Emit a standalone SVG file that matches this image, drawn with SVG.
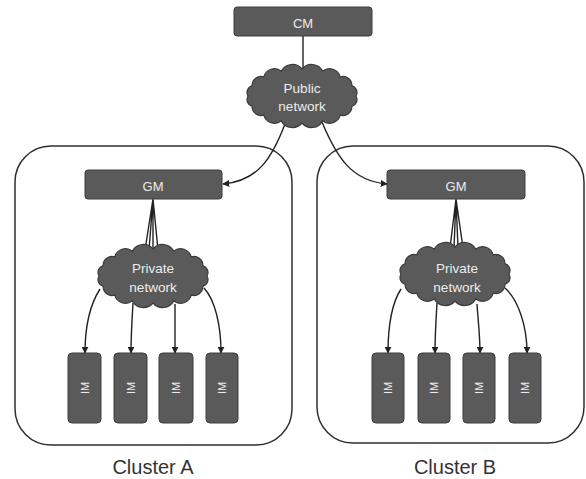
<svg xmlns="http://www.w3.org/2000/svg" width="586" height="479" viewBox="0 0 586 479">
  <defs>
    <style>
      .box { fill: #5a5a5a; stroke: #3c3c3c; stroke-width: 1; }
      .cloud { fill: #5a5a5a; stroke: #3a3a3a; stroke-width: 1.2; }
      .cluster { fill: none; stroke: #2e2e2e; stroke-width: 1.5; }
      .lbl { font-family: "Liberation Sans", Arial, sans-serif; fill: #ececec; text-anchor: middle; }
      .title { font-family: "Liberation Sans", Arial, sans-serif; fill: #333333; font-size: 20px; text-anchor: middle; }
      .link { fill: none; stroke: #222222; stroke-width: 1.4; }
      .arrow { fill: none; stroke: #222222; stroke-width: 1.4; marker-end: url(#head); }
    </style>
    <marker id="head" viewBox="0 0 10 10" refX="9" refY="5" markerWidth="7" markerHeight="7" markerUnits="userSpaceOnUse" orient="auto">
      <path d="M0,0 L10,5 L0,10 Z" fill="#222222"/>
    </marker>
    <!-- bumpy cloud outline, centred on the origin -->
    <path id="cloudShape" d="M-54,0 A7,7 0 0,1 -49.9,-10.3 A9,9 0 0,1 -38.2,-19.1 A11,11 0 0,1 -20.7,-24.9 A12.5,12.5 0 0,1 0,-27 A12.5,12.5 0 0,1 20.7,-24.9 A11,11 0 0,1 38.2,-19.1 A9,9 0 0,1 49.9,-10.3 A7,7 0 0,1 54,0 A7,7 0 0,1 49.9,10.3 A9,9 0 0,1 38.2,19.1 A11,11 0 0,1 20.7,24.9 A12.5,12.5 0 0,1 0,27 A12.5,12.5 0 0,1 -20.7,24.9 A11,11 0 0,1 -38.2,19.1 A9,9 0 0,1 -49.9,10.3 A7,7 0 0,1 -54,0 Z"/>
  </defs>

  <rect width="586" height="479" fill="#ffffff"/>

  <!-- cluster frames -->
  <g id="clusterA">
    <rect class="cluster" x="15" y="146" width="277" height="299" rx="36"/>
    <text class="title" x="153" y="474">Cluster A</text>
  </g>
  <g id="clusterB">
    <rect class="cluster" x="317" y="146" width="267" height="297" rx="36"/>
    <text class="title" x="455" y="474">Cluster B</text>
  </g>

  <!-- connectors -->
  <g id="connectors">
    <line class="link" x1="303" y1="36" x2="303" y2="70"/>
    <path class="arrow" d="M285,124 C272,158 258,181 223,184"/>
    <path class="arrow" d="M322,122 C337,158 352,181 387,184"/>

    <!-- GM to private network, cluster A -->
    <path class="link" d="M153,199 L145,250 M153,199 L149,250 M153,199 L153,250 M153,199 L158,250"/>
    <!-- GM to private network, cluster B -->
    <path class="link" d="M456,199 L450,248 M456,199 L454,248 M456,199 L458,248 M456,199 L463,248"/>

    <!-- private network to IMs, cluster A -->
    <path class="arrow" d="M100,289 C91,303 85,325 85,353"/>
    <path class="arrow" d="M133,303 C132,320 131,335 131,353"/>
    <path class="arrow" d="M175,304 C175,320 175,335 175,353"/>
    <path class="arrow" d="M204,288 C215,300 221,325 221,353"/>

    <!-- private network to IMs, cluster B -->
    <path class="arrow" d="M401,289 C392,303 388,325 388,353"/>
    <path class="arrow" d="M437,303 C436,320 435,335 435,353"/>
    <path class="arrow" d="M477,304 C478,320 480,335 480,353"/>
    <path class="arrow" d="M505,288 C518,300 527,325 527,353"/>
  </g>

  <!-- top manager -->
  <g id="cm">
    <rect class="box" x="234" y="7" width="138" height="29" rx="3"/>
    <text class="lbl" x="303" y="28" font-size="13">CM</text>
  </g>

  <g id="publicNetwork">
    <use href="#cloudShape" class="cloud" transform="translate(302,96)"/>
    <text class="lbl" x="302" y="93" font-size="13.5">Public</text>
    <text class="lbl" x="302" y="111" font-size="13.5">network</text>
  </g>

  <!-- cluster A nodes -->
  <g id="gmA">
    <rect class="box" x="85" y="170" width="137" height="29" rx="3"/>
    <text class="lbl" x="153" y="191" font-size="13">GM</text>
  </g>
  <g id="privateNetworkA">
    <use href="#cloudShape" class="cloud" transform="translate(153,276)"/>
    <text class="lbl" x="153" y="273" font-size="13.5">Private</text>
    <text class="lbl" x="153" y="292" font-size="13.5">network</text>
  </g>
  <g id="imA1">
    <rect class="box" x="68" y="353" width="33" height="70" rx="4"/>
    <text class="lbl" font-size="11" transform="translate(88.5,388) rotate(-90)">IM</text>
  </g>
  <g id="imA2">
    <rect class="box" x="114" y="353" width="33" height="70" rx="4"/>
    <text class="lbl" font-size="11" transform="translate(134.5,388) rotate(-90)">IM</text>
  </g>
  <g id="imA3">
    <rect class="box" x="159" y="353" width="34" height="70" rx="4"/>
    <text class="lbl" font-size="11" transform="translate(180,388) rotate(-90)">IM</text>
  </g>
  <g id="imA4">
    <rect class="box" x="206" y="353" width="32" height="70" rx="4"/>
    <text class="lbl" font-size="11" transform="translate(226,388) rotate(-90)">IM</text>
  </g>

  <!-- cluster B nodes -->
  <g id="gmB">
    <rect class="box" x="387" y="170" width="138" height="29" rx="3"/>
    <text class="lbl" x="456" y="191" font-size="13">GM</text>
  </g>
  <g id="privateNetworkB">
    <use href="#cloudShape" class="cloud" transform="translate(455,274)"/>
    <text class="lbl" x="457" y="273" font-size="13.5">Private</text>
    <text class="lbl" x="457" y="292" font-size="13.5">network</text>
  </g>
  <g id="imB1">
    <rect class="box" x="372" y="353" width="32" height="70" rx="4"/>
    <text class="lbl" font-size="11" transform="translate(392,388) rotate(-90)">IM</text>
  </g>
  <g id="imB2">
    <rect class="box" x="418" y="353" width="32" height="70" rx="4"/>
    <text class="lbl" font-size="11" transform="translate(438,388) rotate(-90)">IM</text>
  </g>
  <g id="imB3">
    <rect class="box" x="463" y="353" width="32" height="70" rx="4"/>
    <text class="lbl" font-size="11" transform="translate(483,388) rotate(-90)">IM</text>
  </g>
  <g id="imB4">
    <rect class="box" x="509" y="353" width="32" height="70" rx="4"/>
    <text class="lbl" font-size="11" transform="translate(529,388) rotate(-90)">IM</text>
  </g>
</svg>
